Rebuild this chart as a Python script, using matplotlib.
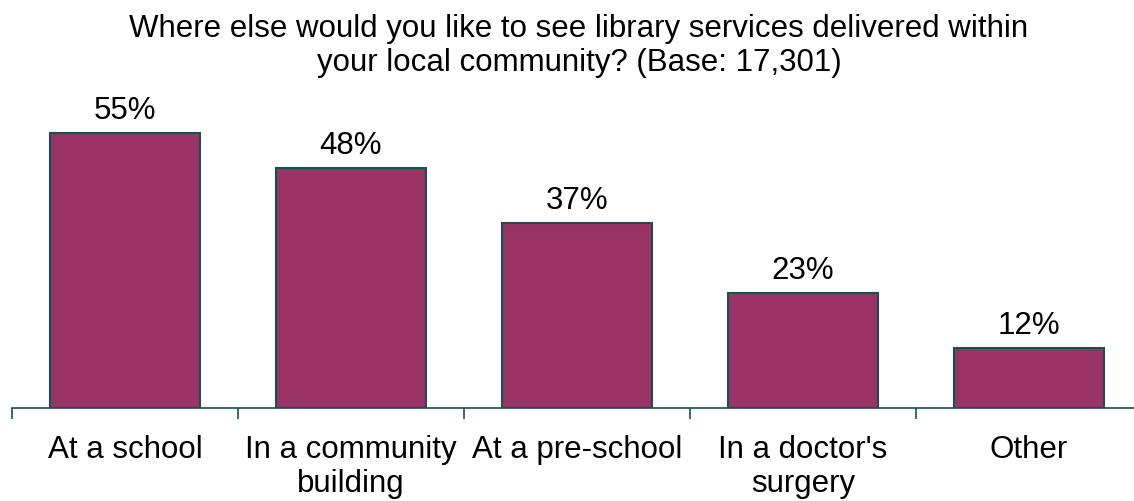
import matplotlib
matplotlib.use("Agg")
import matplotlib.pyplot as plt
import numpy as np

plt.rcParams['font.family'] = ['Liberation Sans', 'DejaVu Sans']

categories = ["At a school", "In a community\nbuilding", "At a pre-school",
              "In a doctor's\nsurgery", "Other"]
values = [55, 48, 37, 23, 12]
labels = ["55%", "48%", "37%", "23%", "12%"]

bar_col = '#993366'
edge_col = '#1b4f50'
fs = 22.5

fig = plt.figure(figsize=(11.34, 5.02), dpi=100)
ax = fig.add_axes([12/1134, 93/502, 1130/1134, 300/502])

x = np.arange(len(values))
ax.bar(x, values, width=0.664, color=bar_col, edgecolor=edge_col, linewidth=1.5)
for xi, v, lab in zip(x, values, labels):
    ax.annotate(lab, (xi, v), xytext=(0, 5.5), textcoords='offset points',
                ha='center', va='bottom', fontsize=fs)

ax.set_xlim(-0.5, len(values) - 0.5)
ax.set_ylim(0, 60)
ax.set_yticks([])
for s in ['top', 'right', 'left']:
    ax.spines[s].set_visible(False)
ax.spines['bottom'].set_color(edge_col)
ax.spines['bottom'].set_linewidth(1.2)

ax.set_xticks(np.arange(len(values) + 1) - 0.5)
ax.set_xticklabels([])
ax.tick_params(axis='x', length=8, width=1.2, color=edge_col, direction='out')
ax.set_xticks(x, minor=True)
ax.set_xticklabels(categories, minor=True, fontsize=fs, linespacing=1.2)
ax.tick_params(axis='x', which='minor', length=0, pad=18.5)

fig.text(579/1134, 1 - 46/502,
         "Where else would you like to see library services delivered within\n"
         "your local community? (Base: 17,301)",
         ha='center', va='center', fontsize=fs, linespacing=1.2)

fig.savefig("out.png", dpi=100)
